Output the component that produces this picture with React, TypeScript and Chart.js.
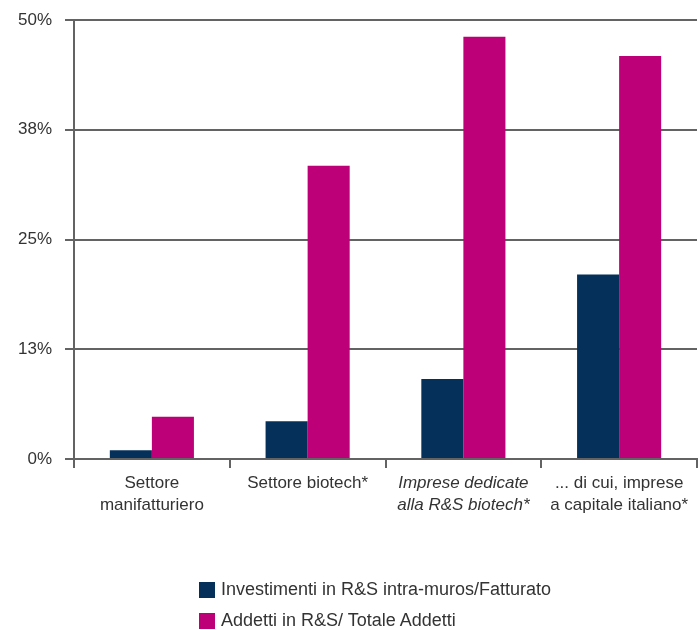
import React, { useEffect, useRef } from 'react';
import { Chart, registerables } from 'chart.js';

Chart.register(...registerables);

// Categories shown on the x axis (multi-line labels as arrays)
const categories: (string | string[])[] = [
  ['Settore', 'manifatturiero'],
  'Settore biotech*',
  ['Imprese dedicate', 'alla R&S biotech*'],
  ['... di cui, imprese', 'a capitale italiano*'],
];

// Series values, in percent
const investimentiFatturato = [1.0, 4.3, 9.1, 21.0];
const addettiTotale = [4.8, 33.4, 48.1, 45.9];

const seriesNames = [
  'Investimenti in R&S intra-muros/Fatturato',
  'Addetti in R&S/ Totale Addetti',
];
const seriesColors = ['#05305a', '#bd0078'];

// Y axis ticks and their printed labels
const yTickValues = [0, 12.5, 25, 37.5, 50];
const yTickLabels = ['0%', '13%', '25%', '38%', '50%'];

const FONT = "'Liberation Sans Narrow', 'Liberation Sans', Arial, sans-serif";
const TEXT = '#333333';
const AXIS = '#636363';
const W = 698;
const H = 630;
const AXIS_Y = 459;

export default function App() {
  const ref = useRef<HTMLCanvasElement | null>(null);

  useEffect(() => {
    if (!ref.current) return;
    const chart = new Chart(ref.current, {
      type: 'bar',
      data: {
        labels: categories,
        datasets: [
          {
            label: seriesNames[0],
            data: investimentiFatturato,
            backgroundColor: seriesColors[0],
            borderWidth: 0,
            categoryPercentage: 0.54,
            barPercentage: 1,
          },
          {
            label: seriesNames[1],
            data: addettiTotale,
            backgroundColor: seriesColors[1],
            borderWidth: 0,
            categoryPercentage: 0.54,
            barPercentage: 1,
          },
        ],
      },
      options: {
        responsive: false,
        animation: false,
        layout: { padding: { top: 20, right: 1, bottom: 0, left: 0 } },
        plugins: {
          legend: { display: false },
          tooltip: { enabled: false },
        },
        scales: {
          x: {
            offset: true,
            grid: {
              offset: true,
              drawOnChartArea: false,
              drawTicks: true,
              tickLength: 9,
              color: AXIS,
              lineWidth: 2,
            },
            border: { display: true, color: AXIS, width: 2 },
            ticks: {
              color: TEXT,
              padding: 5,
              maxRotation: 0,
              autoSkip: false,
              font: (ctx: any) => ({
                family: FONT,
                size: 17,
                lineHeight: 1.25,
                style: ctx.index === 2 ? 'italic' : 'normal',
              }),
            },
            afterFit: (scale: any) => {
              scale.height = H - AXIS_Y;
              scale.paddingLeft = 0;
              scale.paddingRight = 0;
            },
          },
          y: {
            min: 0,
            max: 50,
            afterBuildTicks: (scale: any) => {
              scale.ticks = yTickValues.map((v) => ({ value: v }));
            },
            grid: {
              color: AXIS,
              lineWidth: 2,
              tickLength: 9,
              drawTicks: true,
            },
            border: { display: true, color: AXIS, width: 2 },
            ticks: {
              color: TEXT,
              padding: 13,
              font: { family: FONT, size: 17 },
              callback: (v: any) => yTickLabels[yTickValues.indexOf(Number(v))],
            },
            afterFit: (scale: any) => {
              scale.width = 74;
              scale.paddingTop = 0;
              scale.paddingBottom = 0;
            },
          },
        },
      },
    });
    return () => chart.destroy();
  }, []);

  const legendItem = (i: number, top: number) => (
    <div
      key={i}
      style={{
        position: 'absolute',
        left: 199,
        top,
        display: 'flex',
        alignItems: 'center',
        fontFamily: FONT,
        fontSize: 18,
        color: TEXT,
        whiteSpace: 'nowrap',
      }}
    >
      <span
        style={{
          display: 'inline-block',
          width: 16,
          height: 16,
          background: seriesColors[i],
          marginRight: 6,
        }}
      />
      <span>{seriesNames[i]}</span>
    </div>
  );

  return (
    <div
      style={{
        position: 'absolute',
        left: 0,
        top: 0,
        width: W,
        height: H,
        background: '#ffffff',
      }}
    >
      <canvas ref={ref} width={W} height={H} style={{ display: 'block' }} />
      {legendItem(0, 579)}
      {legendItem(1, 610)}
    </div>
  );
}
